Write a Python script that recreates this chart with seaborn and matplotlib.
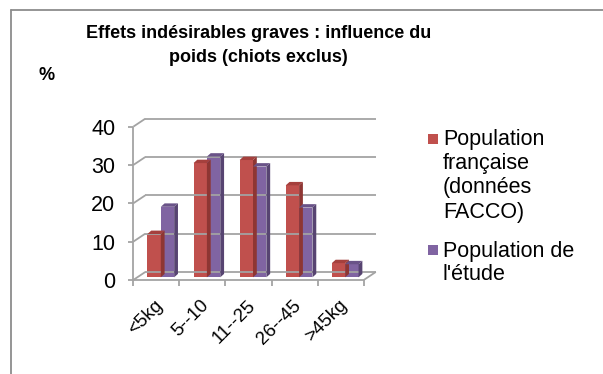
import numpy as np
import pandas as pd
import seaborn as sns
import matplotlib.pyplot as plt
from matplotlib.patches import Polygon, Rectangle
from matplotlib.lines import Line2D

# ---- data -------------------------------------------------------------
categories = ["<5kg", "5--10", "11--25", "26--45", ">45kg"]
series_names = ["Population\nfrançaise\n(données\nFACCO)", "Population de\nl'étude"]
facco = [11.3, 29.8, 30.6, 24.0, 3.7]
etude = [18.4, 31.5, 28.9, 18.2, 3.4]
y_ticks = [0, 10, 20, 30, 40]

title_lines = ["Effets indésirables graves : influence du", "poids (chiots exclus)"]
y_label = "%"

# ---- styling ----------------------------------------------------------
sns.set_theme(style="white")
plt.rcParams["font.family"] = ["Liberation Sans", "DejaVu Sans"]

W, H, DPI = 603, 374, 100
front_col = ["#C0504D", "#8064A2"]
top_col = ["#A5403D", "#6A5388"]
side_col = ["#8E3633", "#574471"]
grid_col = "#A3A3A3"

df = pd.DataFrame({
    "poids": categories * 2,
    "pct": facco + etude,
    "serie": [series_names[0]] * len(categories) + [series_names[1]] * len(categories),
})

fig = plt.figure(figsize=(W / DPI, H / DPI), dpi=DPI)
fig.patch.set_facecolor("white")


def fx(px):
    return px / W


def fy(py):
    return 1 - py / H


# plotting plane (mid-depth of the 3-D box)
left_px, right_px, base_px, top_px = 137.75, 368.25, 277.3, 124.0
ax = fig.add_axes([fx(left_px), fy(base_px), fx(right_px - left_px), (base_px - top_px) / H])
sns.barplot(data=df, x="poids", y="pct", hue="serie", palette=front_col,
            width=0.58, saturation=1, legend=False, ax=ax, linewidth=0)
ax.set_xlim(-0.5, len(categories) - 0.5)
ax.set_ylim(y_ticks[0], y_ticks[-1])
ax.axis("off")
ax.patch.set_alpha(0)

FRONT = np.array([-4.5, -2.7])   # display offset of the front plane
BACK = np.array([7.5, 5.3])      # display offset of the back wall
DEPTH = np.array([3.8, 3.4])     # depth of each bar


def disp(x, y, off=(0, 0)):
    return ax.transData.transform((x, y)) + np.asarray(off)


lw_pt = 1.8 * 72 / DPI


def seg(p, q, color=grid_col, lw=lw_pt, z=0.5):
    fig.add_artist(Line2D([p[0], q[0]], [p[1], q[1]], transform=None,
                          color=color, lw=lw, zorder=z, solid_capstyle="butt"))


xmin, xmax = -0.5, len(categories) - 0.5

# back-wall gridlines and their left-wall connectors
for v in y_ticks:
    seg(disp(xmin, v, BACK), disp(xmax, v, BACK))
    seg(disp(xmin, v, FRONT), disp(xmin, v, BACK))

# floor
seg(disp(xmin, 0, FRONT), disp(xmax, 0, FRONT))
seg(disp(xmax, 0, FRONT), disp(xmax, 0, BACK))

# value axis with ticks and labels
seg(disp(xmin, y_ticks[0], FRONT), disp(xmin, y_ticks[-1], FRONT))
for v in y_ticks:
    p = disp(xmin, v, FRONT)
    seg(p, p + np.array([-5, 0]))
    fig.text(fx(p[0] - 18), (p[1] - 2.5) / H, f"{v}", ha="right", va="center",
             fontsize=15.5, color="#000000")

# category ticks and rotated labels
for i in range(len(categories) + 1):
    p = disp(xmin + i, 0, FRONT)
    seg(p, p + np.array([0, -6]))
for i, c in enumerate(categories):
    p = disp(i, 0, FRONT)
    fig.text(fx(p[0] - 2), (p[1] - 17) / H, c, rotation=45, rotation_mode="anchor",
             ha="right", va="top", fontsize=13.5, color="#000000")

# depth faces of the bars
n = len(categories)
for k, patch in enumerate(ax.patches):
    s = k // n
    x0, w, h = patch.get_x(), patch.get_width(), patch.get_height()
    y0 = patch.get_y()
    a = disp(x0, y0 + h)
    b = disp(x0 + w, y0 + h)
    c = disp(x0 + w, y0)
    top = Polygon([a, b, b + DEPTH, a + DEPTH], closed=True, transform=None,
                  facecolor=top_col[s], edgecolor="none", zorder=2.5 + 2 * s)
    side = Polygon([c, b, b + DEPTH, c + DEPTH], closed=True, transform=None,
                   facecolor=side_col[s], edgecolor="none", zorder=2.5 + 2 * s)
    fig.add_artist(top)
    fig.add_artist(side)
    patch.set_zorder(2.6 + 2 * s)

# title and unit label
fig.text(fx(259), fy(33), title_lines[0], ha="center", va="center",
         fontsize=13, fontweight="bold", color="#000000")
fig.text(fx(258), fy(58), title_lines[1], ha="center", va="center",
         fontsize=13, fontweight="bold", color="#000000")
fig.text(fx(47), fy(76), y_label, ha="center", va="center",
         fontsize=13, fontweight="bold", color="#000000")

# legend
leg_y = [139, 250]
line_step = 24
for s, name in enumerate(series_names):
    fig.add_artist(Rectangle((fx(428), fy(leg_y[s] + 5)), fx(10), 10 / H,
                             transform=fig.transFigure, facecolor=front_col[s],
                             edgecolor="none"))
    for j, line in enumerate(name.split("\n")):
        fig.text(fx(443), fy(leg_y[s] + 1 + j * line_step), line, ha="left",
                 va="center", fontsize=15.5, color="#000000")

# outer frame
fig.add_artist(Line2D([fx(11), 1.0], [fy(10), fy(10)], transform=fig.transFigure,
                      color="#8C8C8C", lw=lw_pt))
fig.add_artist(Line2D([fx(11), fx(11)], [fy(10), 0.0], transform=fig.transFigure,
                      color="#8C8C8C", lw=lw_pt))

fig.savefig("out.png", dpi=DPI, facecolor="white")
